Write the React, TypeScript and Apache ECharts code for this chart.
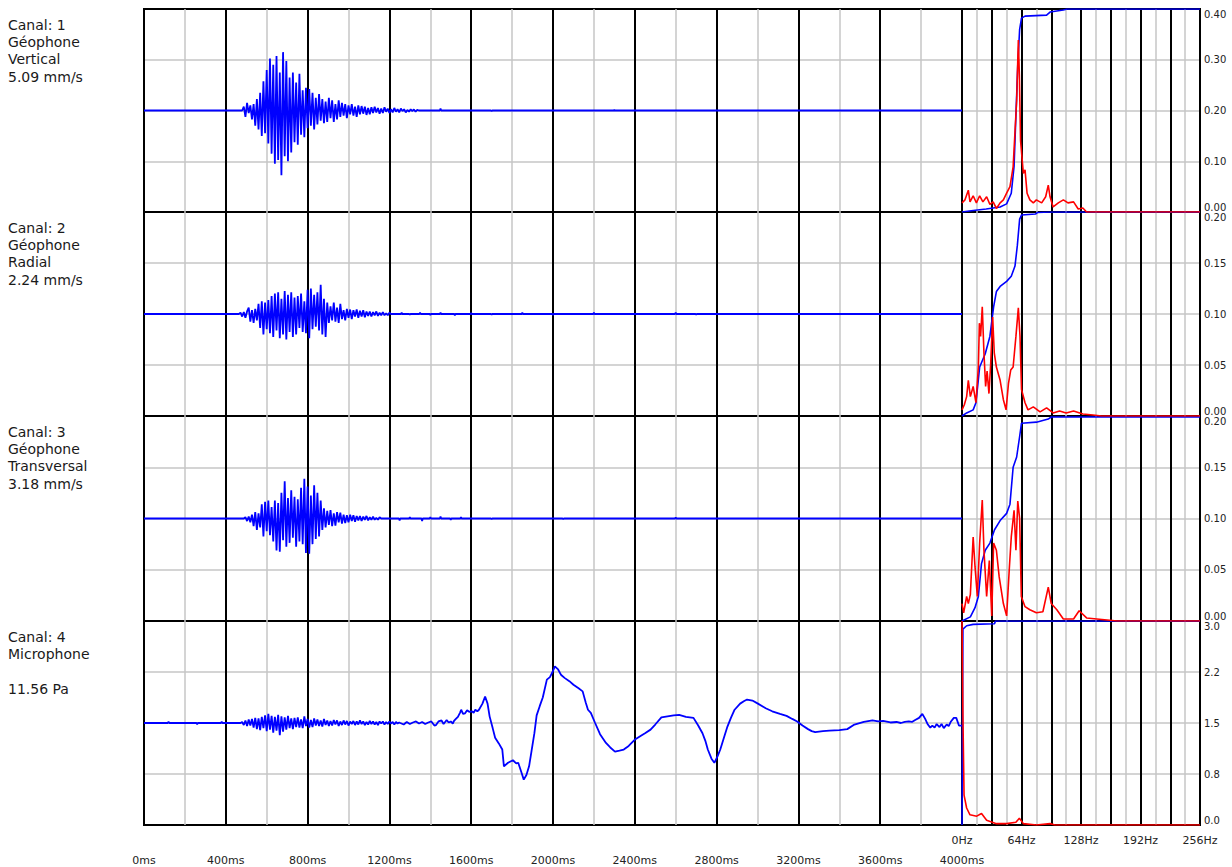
import React, { useEffect, useRef } from "react";
import * as echarts from "echarts";

// ---------- labels ----------
const channelLabels: string[][] = [
  ["Canal: 1", "Géophone", "Vertical", "5.09 mm/s"],
  ["Canal: 2", "Géophone", "Radial", "2.24 mm/s"],
  ["Canal: 3", "Géophone", "Transversal", "3.18 mm/s"],
  ["Canal: 4", "Microphone", "", "11.56 Pa"],
];
const micSpecLabels = ["0.0", "0.8", "1.5", "2.2", "3.0"];

// ---------- axis ranges ----------
const ampRanges = [8, 8, 8, 20]; // mm/s, mm/s, mm/s, Pa
const specMax = [0.4, 0.2, 0.2, 3.0];
const specInterval = [0.1, 0.05, 0.05, 0.75];

// ---------- time signals (ms, value) ----------
const burstStep = 8;
const ch1Start = 488;
const ch1Burst = [
  0.3, -0.5, 0.6, -0.2, 0.4, -0.7, 0.5, -1.2, 0.9, -1.5, 1.4, -2.0, 2.3, -1.8, 3.2, -2.6,
  4.1, -3.4, 3.6, -4.2, 4.3, -3.9, 3.0, -5.1, 4.6, -3.6, 3.9, -4.0, 2.6, -3.3, 3.0, -2.5,
  2.2, -2.7, 2.9, -1.9, 1.6, -2.1, 1.8, -1.4, 1.7, -1.2, 1.4, -1.5, 1.0, -1.1, 1.3, -0.8,
  0.9, -1.0, 0.7, -0.9, 1.0, -0.6, 0.8, -0.9, 0.5, -0.7, 0.8, -0.5, 0.6, -0.4, 0.5, -0.6,
  0.4, -0.3, 0.5, -0.4, 0.3, -0.5, 0.4, -0.3, 0.35, -0.25, 0.3, -0.35, 0.2, -0.3, 0.25, -0.2,
  0.3, -0.15, 0.2, -0.25, 0.15, -0.2, 0.25, -0.1, 0.15, -0.2, 0.1, -0.15, 0.2, -0.1, 0.1, -0.15,
  0.15, -0.05, 0.1, -0.15, 0.05, -0.1, 0.1, -0.05, 0.08, -0.1, 0.05, 0,
];
const ch1Blips: number[][] = [[1450, 0.15], [1700, -0.06], [2300, 0.05]];

const ch2Start = 472;
const ch2Burst = [
  0.1, -0.2, 0.15, -0.3, 0.2, 0.5, -0.6, 0.3, -0.7, 0.4, -0.5, 0.8, -1.1, 1.0, -1.6, 0.9,
  -1.2, 1.1, -1.5, 1.4, -1.8, 1.6, -1.3, 1.7, -1.9, 1.2, -1.6, 1.8, -2.0, 1.5, -1.4, 1.7,
  -1.8, 1.3, -1.6, 1.4, -1.1, 1.6, -1.4, 1.0, -1.5, 1.9, -1.9, 2.0, -1.2, 1.5, -1.0, 1.7,
  -1.3, 2.3, -1.6, 1.2, -1.8, 0.9, -0.7, 0.6, -0.5, 0.9, -0.6, 0.5, -0.7, 0.8, -0.4, 0.3,
  -0.5, 0.4, -0.3, 0.35, -0.4, 0.3, -0.2, 0.35, -0.3, 0.25, -0.2, 0.3, -0.25, 0.2, -0.15, 0.2,
  -0.2, 0.15, -0.1, 0.2, -0.15, 0.1, -0.1, 0.15, -0.1, 0.05, -0.1, 0.1,
];
const ch2Blips: number[][] = [
  [1260, 0.1], [1300, -0.06], [1350, 0.12], [1400, -0.08], [1450, 0.1], [1520, -0.1],
  [1600, 0.08], [1700, -0.06], [1850, 0.1], [2000, -0.08], [2200, 0.1], [2600, 0.12], [2700, -0.06],
];

const ch3Start = 496;
const ch3Burst = [
  0.1, -0.2, 0.15, -0.3, 0.3, -0.6, 0.5, -0.9, 0.4, -0.7, 1.1, -1.4, 1.3, -1.0, 1.4, -1.3,
  0.9, -1.8, 1.4, -2.5, 1.2, -2.6, 2.0, -1.7, 2.9, -2.2, 1.6, -1.9, 2.2, -1.5, 1.7, -2.2,
  1.5, -1.8, 2.4, -2.0, 3.1, -2.7, 2.5, -2.75, 1.8, -2.0, 2.6, -1.6, 2.0, -1.4, 1.4, -0.9,
  0.8, -0.7, 0.6, -0.5, 0.65, -0.6, 0.4, -0.55, 0.5, -0.3, 0.45, -0.4, 0.3, -0.35, 0.25, -0.3,
  0.3, -0.2, 0.25, -0.25, 0.2, -0.15, 0.2, -0.2, 0.15, -0.1, 0.2, -0.15, 0.1, -0.1, 0.15, -0.1,
  0.05, -0.1, 0.1, 0,
];
const ch3Blips: number[][] = [
  [1250, -0.15], [1300, 0.1], [1360, -0.2], [1400, 0.12], [1450, 0.15], [1500, -0.1],
  [1550, 0.1], [1700, -0.06], [2050, -0.06], [2600, 0.08],
];

const micStart = 480;
const micBurst = [
  0.2, -0.4, 0.5, -0.6, 0.7, -0.5, 0.8, -0.9, 1.0, -1.2, 0.9, -1.4, 1.2, -1.0, 1.5, -1.6,
  1.8, -1.3, 1.4, -1.9, 1.2, -1.5, 1.6, -2.4, 1.3, -1.7, 1.1, -1.3, 1.4, -1.0, 0.9, -1.2,
  1.0, -0.8, 1.1, -0.9, 0.7, -1.0, 1.3, -0.6, 0.8, -0.9, 0.6, -0.8, 0.9, -0.5, 0.7, -0.6,
  0.5, -0.7, 0.8, -0.4, 0.5, -0.6, 0.4, -0.5, 0.6, -0.3, 0.5, -0.6, 0.3, -0.4, 0.5, -0.3,
  0.4, -0.5, 0.3, -0.2, 0.4, -0.4, 0.3, -0.3, 0.5, -0.2, 0.3, -0.4, 0.2, -0.3, 0.4, -0.2,
  0.3, -0.3, 0.2, -0.4, 0.3, -0.1, 0.3, -0.3, 0.2, -0.2, 0.3, -0.1, 0.2, -0.3, 0.2, -0.1, 0.1,
];
const micSlow: number[][] = [
  [1253, 0], [1270, -0.3], [1285, 0.2], [1300, -0.2], [1315, 0.1], [1330, 0.3], [1345, -0.1],
  [1360, 0.2], [1375, -0.2], [1390, 0.1], [1405, 0.3], [1420, -0.5], [1428, -0.4], [1440, 0.3],
  [1455, 0.5], [1465, -0.2], [1480, 0.6], [1490, 0.1], [1500, 0.3], [1510, -0.1], [1516, 0.4],
  [1525, 0.8], [1535, 1.2], [1545, 2.0], [1551, 2.6], [1560, 1.8], [1570, 1.9], [1580, 2.5],
  [1590, 2.2], [1603, 2.3], [1612, 2.0], [1620, 2.6], [1630, 2.3], [1638, 2.6], [1655, 3.8],
  [1668, 5.2], [1680, 3.8], [1690, 1.3],
  [1705, -1.0], [1717, -2.9], [1735, -4.0], [1752, -5.2], [1760, -8.5], [1780, -7.8],
  [1804, -7.3], [1820, -7.9], [1830, -7.8], [1845, -9.6], [1857, -11.1], [1870, -10.2],
  [1883, -8.5], [1895, -5.5], [1909, -2.0], [1920, 1.5], [1935, 3.3], [1950, 5.0], [1970, 8.5],
  [1985, 9.0], [2000, 10.2], [2009, 11.1], [2025, 10.5], [2040, 9.4], [2058, 8.8], [2080, 8.2],
  [2100, 7.5], [2125, 6.8], [2145, 6.2], [2160, 4.0], [2171, 2.6], [2185, 2.0], [2206, 0],
  [2230, -2.2], [2259, -3.9], [2280, -4.8], [2303, -5.6], [2325, -5.4], [2346, -5.2],
  [2370, -4.5], [2399, -3.3], [2430, -2.5], [2450, -2.0], [2477, -1.3], [2500, -0.3],
  [2530, 1.1], [2560, 1.3], [2590, 1.5], [2617, 1.6], [2650, 1.2], [2687, 1.0], [2710, -0.5],
  [2731, -2.0], [2745, -3.5], [2757, -5.2], [2775, -7.0], [2789, -7.8], [2805, -6.5],
  [2818, -5.2], [2835, -3.0], [2853, -0.7], [2870, 1.0], [2888, 2.6], [2915, 3.8], [2935, 4.3],
  [2949, 4.6], [2975, 4.4], [3002, 3.8], [3040, 2.9], [3072, 2.3], [3110, 1.8], [3142, 1.4],
  [3170, 0.8], [3194, 0.3], [3220, -0.5], [3247, -1.2], [3265, -1.6], [3282, -1.8],
  [3320, -1.6], [3352, -1.5], [3400, -1.4], [3439, -1.2], [3474, -0.3], [3520, 0.2],
  [3562, 0.5], [3590, 0.3], [3614, 0.4], [3650, 0.1], [3680, 0.2], [3701, 0], [3720, 0.2],
  [3740, 0.3], [3755, 0.2], [3771, 0.6], [3790, 1.0], [3806, 1.8], [3820, 0.8], [3833, -0.3],
  [3845, -0.9], [3855, -0.5], [3866, -0.9], [3876, -0.2], [3890, -0.8], [3900, -0.2],
  [3911, -1.0], [3925, -0.3], [3935, -0.6], [3946, 0.3], [3960, 1.0], [3972, 1.0], [3985, -0.5],
  [4000, -0.5],
];
const micPre: number[][] = [[120, 0.3], [260, -0.3], [380, 0.3]];

// ---------- spectra (Hz, value) ----------
const spec1Red = [
  [0, 0.018], [3.2, 0.024], [6.8, 0.043], [8.6, 0.02], [12, 0.032], [15.5, 0.018], [19, 0.032],
  [22.5, 0.02], [26.5, 0.03], [30, 0.015], [33.5, 0.02], [37, 0.007], [41, 0.018], [44.5, 0.024],
  [48, 0.037], [51.6, 0.05], [55, 0.089], [58.8, 0.22], [60.6, 0.339], [61.7, 0.27], [63, 0.14],
  [66, 0.076], [67.8, 0.083], [70, 0.037], [73, 0.024], [76.7, 0.018], [80, 0.024], [85.7, 0.018],
  [90, 0.03], [92.8, 0.053], [94.7, 0.03], [98, 0.01], [103.6, 0.018], [109, 0.024], [114, 0.018],
  [120, 0.02], [125, 0.006], [130, 0.008], [134, 0], [256, 0],
];
const spec1Blue = [
  [0, 0], [12, 0.003], [26, 0.006], [41, 0.01], [48, 0.016], [53, 0.037], [56, 0.09], [58, 0.19],
  [60, 0.29], [62, 0.36], [64, 0.382], [67.8, 0.386], [91, 0.388], [94.7, 0.394], [109, 0.398],
  [113, 0.4], [256, 0.4],
];
const spec2Red = [
  [0, 0.006], [2.5, 0.011], [5, 0.019], [6.8, 0.035], [9, 0.019], [12, 0.029], [15, 0.013],
  [17.6, 0.048], [18.7, 0.091], [20, 0.078], [21.8, 0.107], [23.6, 0.062], [25.4, 0.029],
  [27, 0.044], [29, 0.022], [30.8, 0.05], [33, 0.097], [34.7, 0.062], [37, 0.048], [41, 0.035],
  [44.5, 0.016], [47.4, 0.006], [50, 0.032], [52.4, 0.045], [55, 0.048], [58, 0.078],
  [60.6, 0.106], [62.4, 0.078], [64, 0.026], [67.8, 0.013], [71, 0.006], [76.7, 0.009],
  [84, 0.004], [91, 0.008], [98, 0.003], [105, 0.005], [112, 0.003], [120, 0.005], [130, 0.002],
  [141, 0.001], [150, 0], [256, 0],
];
const spec2Blue = [
  [0, 0], [5, 0.003], [12, 0.006], [15, 0.013], [19, 0.048], [25, 0.061], [30, 0.078],
  [34, 0.107], [37, 0.122], [41, 0.127], [48, 0.132], [53, 0.137], [57, 0.147], [59.5, 0.167],
  [62, 0.193], [64, 0.197], [79, 0.198], [81, 0.1995], [95, 0.2], [256, 0.2],
];
const spec3Red = [
  [0, 0.017], [1.8, 0.008], [5, 0.024], [6.8, 0.017], [9, 0.026], [12, 0.082], [14, 0.053],
  [16.5, 0.024], [19, 0.076], [21.8, 0.118], [23.6, 0.069], [26.5, 0.024], [29.4, 0.059],
  [32, 0.005], [34, 0.076], [37, 0.069], [40, 0.043], [44.5, 0.017], [48, 0.005], [51, 0.053],
  [53, 0.082], [56, 0.108], [58, 0.069], [60, 0.117], [62, 0.1], [63.8, 0.024], [67.8, 0.014],
  [73, 0.011], [80, 0.008], [87, 0.009], [92.8, 0.033], [96, 0.017], [102, 0.011], [109, 0.002],
  [120, 0.002], [126, 0.01], [134, 0.003], [145, 0.002], [156, 0.001], [167, 0], [256, 0],
];
const spec3Blue = [
  [0, 0], [9, 0.004], [14, 0.013], [17.6, 0.024], [21, 0.056], [25, 0.069], [30, 0.076],
  [35, 0.089], [41, 0.098], [48, 0.105], [51.6, 0.114], [55, 0.15], [58.8, 0.16], [62, 0.18],
  [64, 0.193], [80, 0.194], [92.8, 0.197], [96, 0.199], [256, 0.199],
];
const spec4Red = [
  [0, 3.0], [1, 1.6], [2.2, 0.44], [5, 0.25], [8.6, 0.15], [15.8, 0.13], [21, 0.17], [26.5, 0.07],
  [37, 0.02], [48, 0.02], [58, 0.04], [61.7, 0.1], [66, 0.02], [80, 0], [94.7, 0.02], [100, 0],
  [256, 0],
];
const spec4Blue = [
  [0, 0], [1, 2.88], [5, 2.93], [12, 2.95], [35, 2.96], [36, 3.0], [256, 3.0],
];

const specRed = [spec1Red, spec2Red, spec3Red, spec4Red];
const specBlue = [spec1Blue, spec2Blue, spec3Blue, spec4Blue];

// ---------- layout ----------
const rowTops = [9, 212, 416, 621];
const rowHeights = [203, 204, 205, 204];
const LEFT_X = 144;
const LEFT_W = 818;
const RIGHT_X = 962;
const RIGHT_W = 238;

const BLUE = "#0000ff";
const RED = "#ff0000";
const GRID_GRAY = "#c6c6c6";
const FONT = "DejaVu Sans";

function buildTrace(start: number, step: number, vals: number[], pre: number[][], blips: number[][]) {
  const pts: number[][] = [[0, 0]];
  pre.forEach(([t, v]) => pts.push([t - 3, 0], [t, v], [t + 3, 0]));
  pts.push([start - step, 0]);
  vals.forEach((v, i) => pts.push([start + i * step, v]));
  pts.push([start + vals.length * step, 0]);
  blips.forEach(([t, v]) => pts.push([t - 3, 0], [t, v], [t + 3, 0]));
  pts.push([4000, 0]);
  return pts.sort((a, b) => a[0] - b[0]);
}

function buildMic() {
  const pts: number[][] = [[0, 0]];
  micPre.forEach(([t, v]) => pts.push([t - 3, 0], [t, v], [t + 3, 0]));
  pts.push([micStart - burstStep, 0]);
  micBurst.forEach((v, i) => pts.push([micStart + i * burstStep, v]));
  micSlow.forEach((p) => pts.push(p));
  return pts.sort((a, b) => a[0] - b[0]);
}

export default function App() {
  const ref = useRef<HTMLDivElement>(null);

  useEffect(() => {
    if (!ref.current) return;
    const chart = echarts.init(ref.current, undefined, { renderer: "svg" });

    const traces = [
      buildTrace(ch1Start, burstStep, ch1Burst, [], ch1Blips),
      buildTrace(ch2Start, burstStep, ch2Burst, [], ch2Blips),
      buildTrace(ch3Start, burstStep, ch3Burst, [], ch3Blips),
      buildMic(),
    ];

    const grids: any[] = [];
    const xAxes: any[] = [];
    const yAxes: any[] = [];
    const series: any[] = [];

    for (let i = 0; i < 4; i++) {
      grids.push({
        left: LEFT_X, top: rowTops[i], width: LEFT_W, height: rowHeights[i],
        show: true, borderColor: "#000", borderWidth: 2, backgroundColor: "transparent",
        containLabel: false, outerBoundsMode: "none",
      });
    }
    for (let i = 0; i < 4; i++) {
      grids.push({
        left: RIGHT_X, top: rowTops[i], width: RIGHT_W, height: rowHeights[i],
        show: true, borderColor: "#000", borderWidth: 2, backgroundColor: "transparent",
        containLabel: false, outerBoundsMode: "none",
      });
    }

    // left (time) axes
    for (let i = 0; i < 4; i++) {
      xAxes.push({
        gridIndex: i, type: "value", min: 0, max: 4000, interval: 400,
        axisLine: { show: false }, axisTick: { show: false },
        axisLabel: i === 3
          ? { show: true, margin: 30, fontSize: 11, color: "#222", fontFamily: FONT,
              showMinLabel: true, showMaxLabel: true, hideOverlap: false,
              formatter: (v: number) => `${v}ms` }
          : { show: false },
        splitLine: { show: true, lineStyle: { color: "#000", width: 2 } },
        minorTick: { show: false, splitNumber: 2 },
        minorSplitLine: { show: true, lineStyle: { color: GRID_GRAY, width: 1.5 } },
      });
      const R = ampRanges[i];
      yAxes.push({
        gridIndex: i, type: "value", min: -R, max: R, interval: R / 2,
        axisLine: { show: false }, axisTick: { show: false }, axisLabel: { show: false },
        splitLine: { show: true, showMinLine: false, showMaxLine: false, lineStyle: { color: GRID_GRAY, width: 1.5 } },
      });
      series.push({
        type: "line", xAxisIndex: i, yAxisIndex: i, data: traces[i], showSymbol: false,
        symbol: "none", silent: true, lineStyle: { color: BLUE, width: 1.8 }, z: 3,
      });
    }

    // right (frequency) axes
    for (let i = 0; i < 4; i++) {
      const g = 4 + i;
      xAxes.push({
        gridIndex: g, type: "value", min: 0, max: 256, interval: 32,
        axisLine: { show: false }, axisTick: { show: false },
        axisLabel: i === 3
          ? { show: true, margin: 10, fontSize: 11, color: "#222", fontFamily: FONT,
              showMinLabel: true, showMaxLabel: true, hideOverlap: false,
              formatter: (v: number) => (Math.round(v) % 64 === 0 ? `${Math.round(v)}Hz` : "") }
          : { show: false },
        splitLine: { show: true, lineStyle: { color: "#000", width: 2 } },
        minorTick: { show: false, splitNumber: 2 },
        minorSplitLine: { show: true, lineStyle: { color: GRID_GRAY, width: 1.5 } },
      });
      yAxes.push({
        gridIndex: g, type: "value", position: "right", min: 0, max: specMax[i], interval: specInterval[i],
        axisLine: { show: false }, axisTick: { show: false },
        axisLabel: {
          show: true, margin: 4, fontSize: 10, color: "#222", fontFamily: FONT,
          showMinLabel: true, showMaxLabel: true, hideOverlap: false,
          verticalAlignMinLabel: "bottom", verticalAlignMaxLabel: "top",
          formatter: (v: number) =>
            i === 3 ? micSpecLabels[Math.round(v / specInterval[3])] : v.toFixed(2),
        },
        splitLine: { show: true, showMinLine: false, showMaxLine: false, lineStyle: { color: GRID_GRAY, width: 1.5 } },
      });
      series.push({
        type: "line", xAxisIndex: g, yAxisIndex: g, data: specBlue[i], showSymbol: false,
        symbol: "none", silent: true, lineStyle: { color: BLUE, width: 1.6 }, z: 3,
      });
      series.push({
        type: "line", xAxisIndex: g, yAxisIndex: g, data: specRed[i], showSymbol: false,
        symbol: "none", silent: true, lineStyle: { color: RED, width: 1.6 }, z: 4,
      });
    }

    const graphic = channelLabels.map((lines, i) => ({
      type: "text",
      x: 8,
      y: rowTops[i] + 7,
      silent: true,
      style: {
        text: lines.join("\n"),
        fontSize: 14,
        fontFamily: FONT,
        lineHeight: 17.3,
        fill: "#1a1a1a",
        verticalAlign: "top",
        align: "left",
      },
    }));

    chart.setOption({
      animation: false,
      backgroundColor: "#ffffff",
      grid: grids,
      xAxis: xAxes,
      yAxis: yAxes,
      series,
      graphic,
    });

    return () => chart.dispose();
  }, []);

  return (
    <div
      ref={ref}
      style={{ position: "absolute", left: 0, top: 0, width: 1232, height: 867 }}
    />
  );
}
